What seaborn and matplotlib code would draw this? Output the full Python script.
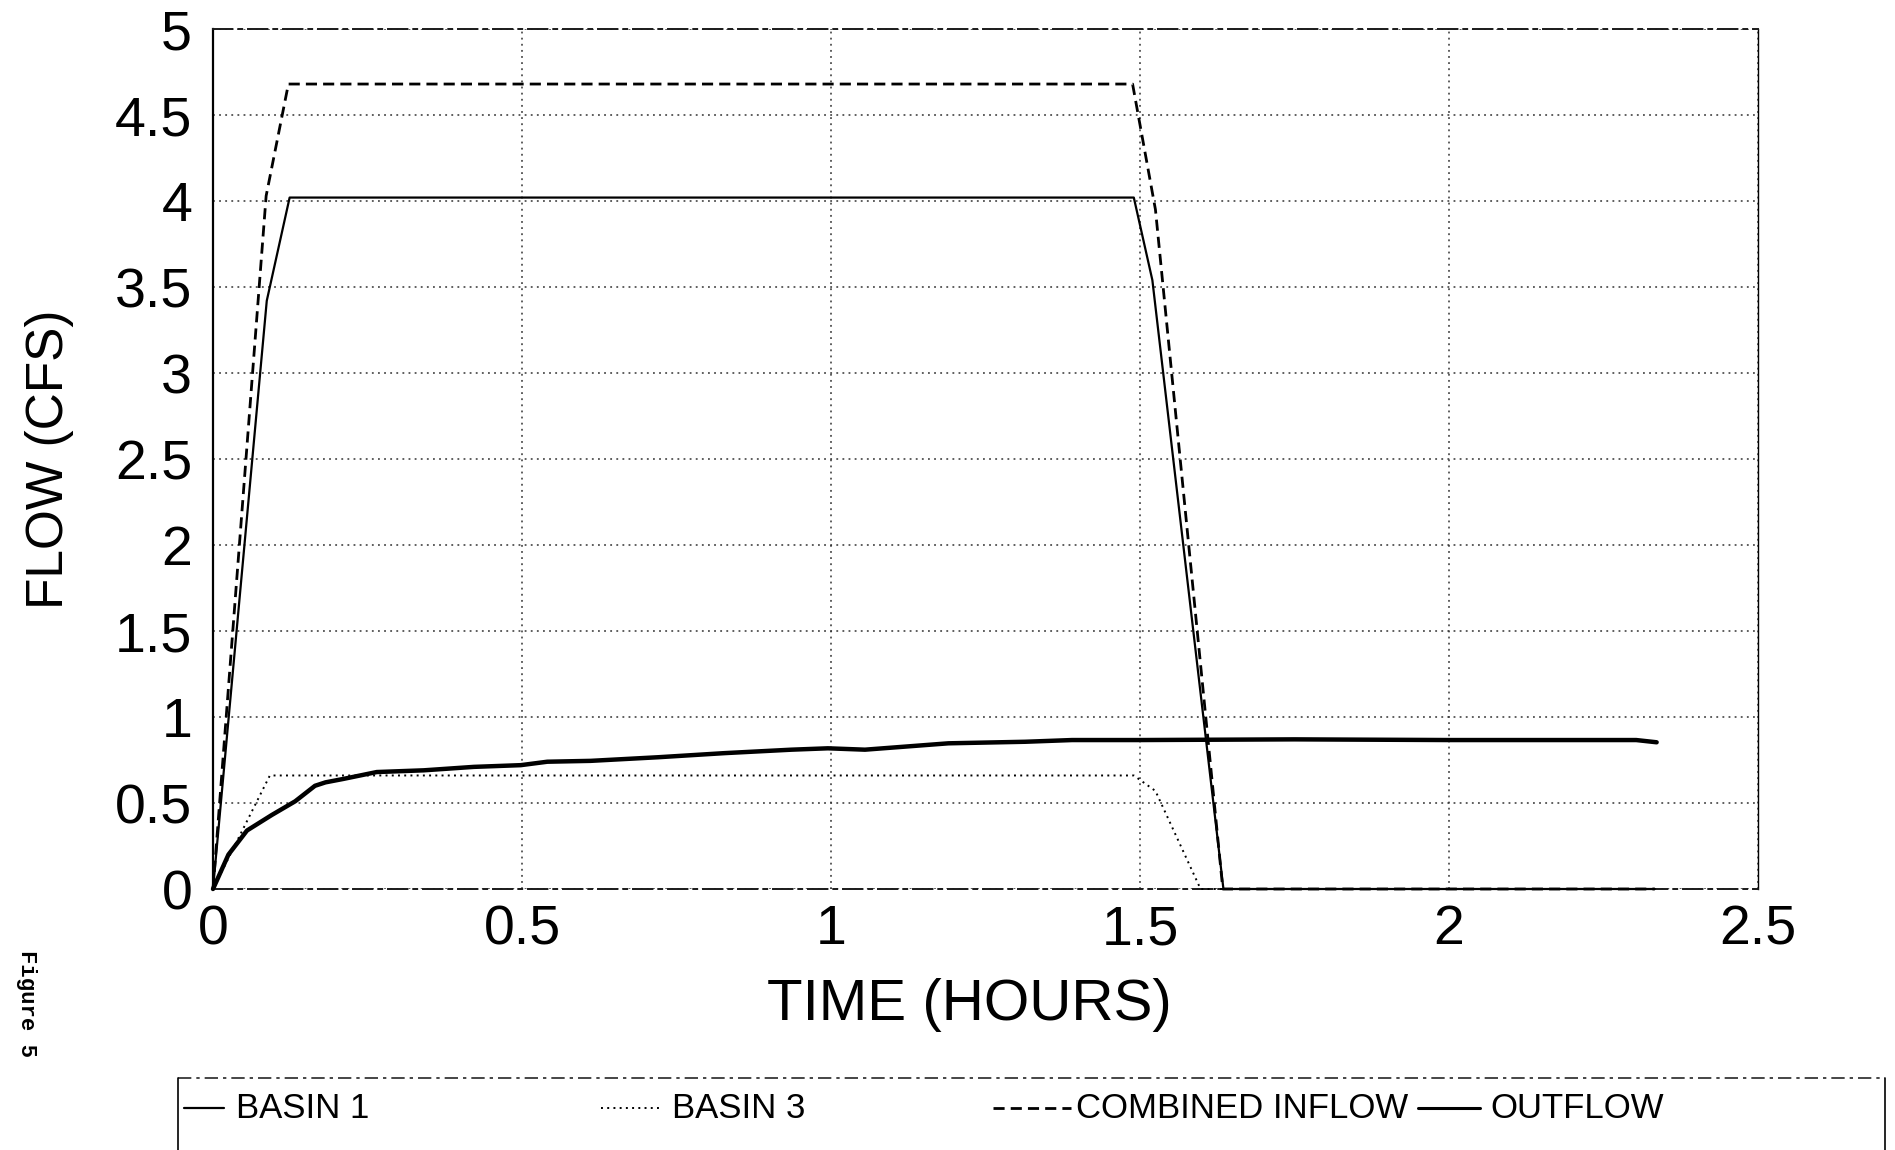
import numpy as np
import pandas as pd
import matplotlib
matplotlib.use("Agg")
import matplotlib.pyplot as plt
from matplotlib.lines import Line2D
from matplotlib.ticker import FormatStrFormatter
import seaborn as sns

# ---------------- data ----------------
basin1_t = [0, 0.087, 0.124, 1.490, 1.520, 1.635, 2.333]
basin1_q = [0, 3.42, 4.02, 4.02, 3.54, 0.0, 0.0]

basin3_t = [0, 0.092, 1.490, 1.525, 1.598, 2.333]
basin3_q = [0, 0.66, 0.66, 0.57, 0.0, 0.0]

combined_t = [0, 0.086, 0.122, 1.488, 1.525, 1.634, 2.333]
combined_q = [0, 4.03, 4.68, 4.68, 3.95, 0.0, 0.0]

outflow_t = [0, 0.025, 0.055, 0.095, 0.133, 0.165, 0.182, 0.211, 0.265, 0.341,
             0.422, 0.498, 0.541, 0.611, 0.720, 0.828, 0.936, 0.995, 1.055,
             1.190, 1.314, 1.390, 1.500, 1.750, 2.000, 2.303, 2.336]
outflow_q = [0, 0.20, 0.34, 0.43, 0.51, 0.60, 0.62, 0.64, 0.68, 0.69,
             0.71, 0.72, 0.74, 0.745, 0.766, 0.79, 0.81, 0.818, 0.81,
             0.847, 0.856, 0.866, 0.866, 0.870, 0.866, 0.866, 0.853]

series_names = ["BASIN 1", "BASIN 3", "COMBINED INFLOW", "OUTFLOW"]
x_ticks = [0, 0.5, 1, 1.5, 2, 2.5]
y_ticks = [0, 0.5, 1, 1.5, 2, 2.5, 3, 3.5, 4, 4.5, 5]
x_label = "TIME (HOURS)"
y_label = "FLOW (CFS)"
side_note = "Figure 5"

# ---------------- style ----------------
sns.set_theme(style="white")
plt.rcParams["font.family"] = ["Liberation Sans", "DejaVu Sans"]

W, H = 1895, 1150
fig = plt.figure(figsize=(W / 100, H / 100), dpi=100)
fig.patch.set_facecolor("white")

L, R, T, B = 213, 1758, 29, 889
ax = fig.add_axes([L / W, 1 - B / H, (R - L) / W, (B - T) / H])
ax.set_facecolor("white")

styles = {
    "BASIN 1": dict(linestyle="-", linewidth=1.6),
    "BASIN 3": dict(linestyle=(0, (1, 2.2)), linewidth=1.4),
    "COMBINED INFLOW": dict(linestyle=(0, (4, 2.2)), linewidth=2.0),
    "OUTFLOW": dict(linestyle="-", linewidth=3.2),
}
data = {
    "BASIN 1": (basin1_t, basin1_q),
    "BASIN 3": (basin3_t, basin3_q),
    "COMBINED INFLOW": (combined_t, combined_q),
    "OUTFLOW": (outflow_t, outflow_q),
}
for name in series_names:
    t, q = data[name]
    df = pd.DataFrame({"t": t, "q": q})
    sns.lineplot(data=df, x="t", y="q", ax=ax, color="black", estimator=None,
                 sort=False, legend=False, zorder=3, clip_on=False, **styles[name])

ax.set_xlim(0, 2.5)
ax.set_ylim(0, 5)
ax.set_xticks(x_ticks)
ax.set_yticks(y_ticks)
ax.xaxis.set_major_formatter(FormatStrFormatter("%g"))
ax.yaxis.set_major_formatter(FormatStrFormatter("%g"))
ax.grid(True, linestyle=(0, (1.2, 2.8)), color="0.2", linewidth=1.1)
ax.set_axisbelow(True)

ax.tick_params(axis="both", direction="out", length=11, width=1.4, color="black",
               labelsize=40, labelcolor="black")
ax.tick_params(axis="x", pad=0)
ax.tick_params(axis="y", pad=4)

for s in ["left", "right"]:
    ax.spines[s].set_color("black")
    ax.spines[s].set_linewidth(1.6)
for s in ["top", "bottom"]:
    ax.spines[s].set_color("0.1")
    ax.spines[s].set_linewidth(1.4)
    ax.spines[s].set_linestyle((0, (10, 3, 2, 3)))
ax.spines["right"].set_linewidth(1.0)

ax.set_xlabel(x_label, fontsize=42, color="black")
ax.set_ylabel(y_label, fontsize=37, color="black")
ax.xaxis.set_label_coords((969 - L) / (R - L), (B - 978) / (B - T))
ax.yaxis.set_label_coords((74 - L) / (R - L), 0.5)

# ---------------- legend box ----------------
bx0, bx1, by0 = 178 / W, 1885 / W, 1 - 1078 / H
fig.add_artist(Line2D([bx0, bx1], [by0, by0], transform=fig.transFigure,
                      color="0.15", linewidth=1.2, linestyle=(0, (8, 3, 2, 3))))
fig.add_artist(Line2D([bx0, bx0], [by0, -0.01], transform=fig.transFigure,
                      color="black", linewidth=1.2))
fig.add_artist(Line2D([bx1, bx1], [by0, -0.01], transform=fig.transFigure,
                      color="black", linewidth=1.2))

leg_y = 1 - 1108 / H
handle_px = [(184, 224), (601, 662), (993, 1071), (1418, 1480)]
text_px = [236, 672, 1076, 1490]
for name, (h0, h1), tx in zip(series_names, handle_px, text_px):
    st = dict(styles[name])
    if name == "OUTFLOW":
        st["linewidth"] = 2.2
    fig.add_artist(Line2D([h0 / W, h1 / W], [leg_y, leg_y], transform=fig.transFigure,
                          color="black", **st))
    fig.text(tx / W, leg_y, name, fontsize=25, va="center", ha="left", color="black")

fig.text(26 / W, 1 - 1003 / H, side_note, rotation=-90, fontsize=16, fontweight="bold",
         family=["Liberation Mono", "DejaVu Sans Mono"], ha="center", va="center",
         color="black")

fig.savefig("out.png", dpi=100, facecolor="white")
